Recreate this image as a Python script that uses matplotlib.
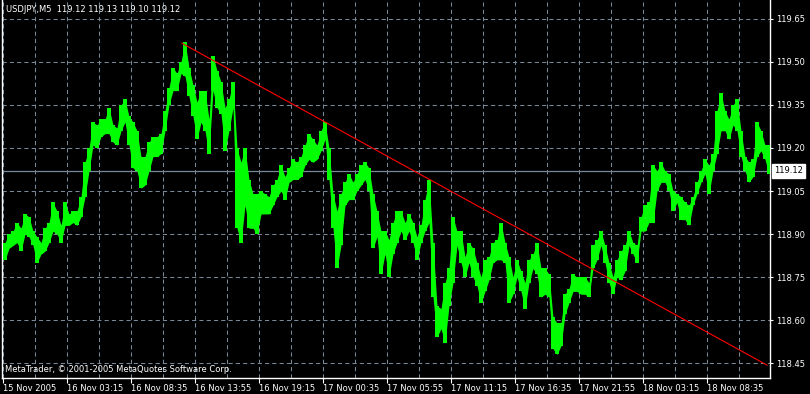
import matplotlib
matplotlib.use("Agg")
import matplotlib.pyplot as plt
import matplotlib.transforms as mtransforms

# ---------- data (one entry per 4 bars of M5) ----------
symbol = "USDJPY,M5"
last_ohlc = [119.12, 119.13, 119.10, 119.12]
last_price = 119.12

highs = [
    118.87, 118.90, 118.91, 118.94, 118.92, 118.97, 118.96, 118.91, 118.89, 118.87,
    118.92, 118.94, 119.01, 118.98, 118.93, 119.01, 118.97, 118.98, 118.98, 119.03,
    119.15, 119.20, 119.29, 119.28, 119.30, 119.30, 119.34, 119.28, 119.27, 119.35,
    119.37, 119.31, 119.29, 119.26, 119.17, 119.17, 119.22, 119.24, 119.24, 119.25,
    119.33, 119.41, 119.48, 119.46, 119.50, 119.57, 119.48, 119.42, 119.36, 119.40,
    119.40, 119.30, 119.52, 119.47, 119.43, 119.34, 119.37, 119.43, 119.20, 119.15,
    119.20, 119.09, 119.04, 119.04, 119.05, 119.04, 119.03, 119.07, 119.09, 119.14,
    119.10, 119.13, 119.16, 119.15, 119.17, 119.21, 119.25, 119.23, 119.21, 119.26,
    119.29, 119.20, 119.04, 118.98, 119.04, 119.08, 119.11, 119.08, 119.11, 119.14,
    119.15, 119.13, 119.04, 118.98, 118.91, 118.91, 118.88, 118.94, 118.98, 118.98,
    118.94, 118.97, 118.94, 118.89, 118.93, 119.02, 119.09, 118.87, 118.65, 118.64,
    118.73, 118.78, 118.96, 118.91, 118.91, 118.82, 118.87, 118.85, 118.80, 118.75,
    118.81, 118.82, 118.87, 118.88, 118.94, 118.87, 118.82, 118.75, 118.81, 118.77,
    118.73, 118.81, 118.83, 118.87, 118.78, 118.78, 118.76, 118.61, 118.59, 118.59,
    118.69, 118.71, 118.76, 118.75, 118.75, 118.75, 118.73, 118.86, 118.88, 118.91,
    118.86, 118.80, 118.75, 118.81, 118.84, 118.86, 118.91, 118.87, 118.86, 118.96,
    119.00, 119.01, 119.14, 119.12, 119.15, 119.12, 119.11, 119.05, 119.04, 119.03,
    119.01, 119.00, 119.03, 119.08, 119.12, 119.16, 119.14, 119.18, 119.33, 119.39,
    119.33, 119.30, 119.35, 119.37, 119.26, 119.17, 119.15, 119.16, 119.29, 119.26,
    119.21, 119.21,
]
lows = [
    118.81, 118.85, 118.86, 118.87, 118.84, 118.90, 118.89, 118.86, 118.80, 118.83,
    118.84, 118.87, 118.91, 118.90, 118.87, 118.93, 118.93, 118.94, 118.93, 118.96,
    119.03, 119.12, 119.21, 119.20, 119.24, 119.25, 119.25, 119.22, 119.21, 119.26,
    119.29, 119.21, 119.13, 119.12, 119.06, 119.07, 119.12, 119.17, 119.17, 119.18,
    119.26, 119.35, 119.40, 119.40, 119.46, 119.45, 119.38, 119.31, 119.23, 119.29,
    119.26, 119.18, 119.40, 119.34, 119.32, 119.19, 119.26, 119.34, 118.92, 118.87,
    119.00, 118.92, 118.92, 118.90, 118.97, 118.97, 118.97, 119.00, 119.03, 119.05,
    119.02, 119.08, 119.09, 119.09, 119.10, 119.14, 119.16, 119.15, 119.16, 119.19,
    119.23, 119.09, 118.92, 118.78, 118.86, 119.00, 119.02, 119.02, 119.05, 119.07,
    119.09, 119.05, 118.85, 118.89, 118.76, 118.83, 118.75, 118.83, 118.87, 118.91,
    118.88, 118.91, 118.87, 118.81, 118.87, 118.91, 118.94, 118.68, 118.54, 118.57,
    118.52, 118.65, 118.73, 118.86, 118.80, 118.75, 118.80, 118.75, 118.72, 118.66,
    118.70, 118.74, 118.80, 118.81, 118.81, 118.80, 118.66, 118.69, 118.75, 118.70,
    118.64, 118.73, 118.78, 118.76, 118.68, 118.69, 118.68, 118.50, 118.48, 118.51,
    118.62, 118.66, 118.70, 118.70, 118.69, 118.69, 118.68, 118.78, 118.81, 118.86,
    118.80, 118.73, 118.69, 118.75, 118.74, 118.77, 118.86, 118.83, 118.80, 118.91,
    118.91, 118.94, 118.94, 119.05, 119.08, 119.08, 119.05, 118.98, 119.01, 118.95,
    118.95, 118.93, 119.00, 119.04, 119.08, 119.11, 119.04, 119.12, 119.18, 119.26,
    119.26, 119.23, 119.28, 119.26, 119.17, 119.12, 119.08, 119.10, 119.17, 119.19,
    119.16, 119.11,
]

time_labels = ["15 Nov 2005", "16 Nov 03:15", "16 Nov 08:35", "16 Nov 13:55",
               "16 Nov 19:15", "17 Nov 00:35", "17 Nov 05:55", "17 Nov 11:15",
               "17 Nov 16:35", "17 Nov 21:55", "18 Nov 03:15", "18 Nov 08:35"]
price_ticks = [118.45, 118.60, 118.75, 118.90, 119.05, 119.20, 119.35, 119.50, 119.65]

# trend line (bar index, price)
trend_x = [44.75, 191.0]
trend_y = [119.565, 118.443]

# ---------- figure ----------
W, H = 810, 394
fig = plt.figure(figsize=(W / 100, H / 100), dpi=100, facecolor="black")
ax = fig.add_axes([2 / W, 16 / H, 768 / W, 378 / H], facecolor="black")

font = "DejaVu Sans"
fs = 6
grid_c = "#778899"
green = "#00ff00"

idx = list(range(len(highs)))
heights = [h - l for h, l in zip(highs, lows)]
# high-low range of each group of bars, plus a band joining neighbouring groups
ax.bar(idx, heights, bottom=lows, width=1.0, align="edge",
       color=green, linewidth=0, zorder=3)
ax.fill_between([i + 0.5 for i in idx], lows, highs, color=green, linewidth=0, zorder=3)

ax.plot(trend_x, trend_y, color="#ff0000", linewidth=0.8, zorder=4)
ax.axhline(last_price, color=grid_c, linewidth=0.9, zorder=2)

ax.set_xlim(-0.25, 191.75)
ax.set_ylim(118.398, 119.716)

# x axis: labels every 16 bars, grid every 8 bars
ax.set_xticks([16 * k for k in range(len(time_labels))])
ax.set_xticks([8 + 16 * k for k in range(12)], minor=True)
ax.set_xticklabels(time_labels, ha="left", fontsize=fs, family=font, color="white")
ax.tick_params(axis="x", which="major", length=3.5, width=0.8, color="white", pad=0.8)
ax.tick_params(axis="x", which="minor", length=0)

ax.yaxis.tick_right()
ax.set_yticks(price_ticks)
ax.set_yticklabels([f"{p:.2f}" for p in price_ticks], fontsize=fs, family=font, color="white")
ax.tick_params(axis="y", length=2.5, width=0.8, color="white", pad=2.2)

ax.grid(which="both", color=grid_c, linestyle=(0, (4, 3)), linewidth=0.75, zorder=1)
ax.set_axisbelow(True)

for side in ["left", "right", "bottom"]:
    ax.spines[side].set_color("white")
    ax.spines[side].set_linewidth(1.0)
ax.spines["top"].set_visible(False)

# current price box
tr = mtransforms.blended_transform_factory(ax.transAxes, ax.transData)
ax.text(1.005, last_price, f"{last_price:.2f}", transform=tr, fontsize=fs, family=font,
        color="black", va="center", ha="left",
        bbox=dict(boxstyle="square,pad=0.25", facecolor="white", edgecolor="white"))

header = symbol + "  " + " ".join(f"{v:.2f}" for v in last_ohlc)
fig.text(6 / W, 1 - 10 / H, header, color="white", fontsize=fs, family=font, va="center")
fig.text(5 / W, 1 - 370 / H, "MetaTrader, \u00a9 2001-2005 MetaQuotes Software Corp.",
         color="white", fontsize=fs, family=font, va="center")

fig.savefig("out.png", dpi=100, facecolor="black")
